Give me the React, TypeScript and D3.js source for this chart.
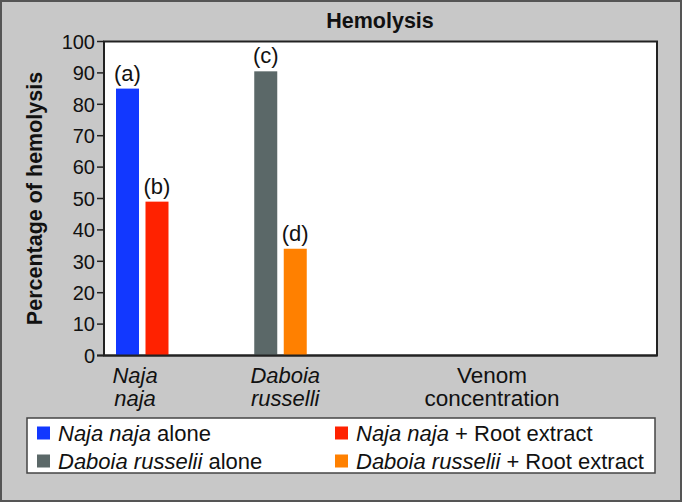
import React from "react";
import * as d3 from "d3";

const categories = ["Naja naja", "Daboia russelli", "", ""];
const categoryLines = [["Naja", "naja"], ["Daboia", "russelli"]];
const seriesKeys = ["alone", "root"];
const najaValues = [85, 49];
const daboiaValues = [90.5, 34];
const barLetters = [["(a)", "(b)"], ["(c)", "(d)"]];
const barColors = [["#1238ff", "#ff2200"], ["#5b6868", "#ff8000"]];
const yTicks = [0, 10, 20, 30, 40, 50, 60, 70, 80, 90, 100];
const legendItems = [
  { it: "Naja naja", rest: " alone", color: "#1238ff" },
  { it: "Naja naja", rest: " + Root extract", color: "#ff2200" },
  { it: "Daboia russelii", rest: " alone", color: "#5b6868" },
  { it: "Daboia russelii", rest: " + Root extract", color: "#ff8000" },
];

const W = 682, H = 502;
const left = 104, right = 657, top = 41.5, bottom = 355.5;
const FONT = "'Liberation Sans', Arial, sans-serif";

export default function App() {
  const x = d3.scaleBand<string>().domain(categories.map((c, i) => c + i)).range([left, right]);
  const y = d3.scaleLinear().domain([0, 100]).range([bottom, top]);
  const inner = d3.scaleBand<string>().domain(seriesKeys).range([0, 52.5]).paddingInner(0.22);
  const groups = [najaValues, daboiaValues];
  return (
    <svg width={W} height={H} style={{ position: "absolute", left: 0, top: 0 }} fontFamily={FONT} fill="#111">
      <rect x={1} y={1} width={W - 2} height={H - 2} fill="#c8c8c8" stroke="#555" strokeWidth={2} />
      <text x={380} y={28} textAnchor="middle" fontWeight="bold" fontSize={21.5}>Hemolysis</text>
      <rect x={left} y={top} width={right - left} height={bottom - top} fill="#fff" stroke="#222" strokeWidth={2} />
      {yTicks.map((t) => (
        <g key={t}>
          <line x1={left - 7} x2={left} y1={y(t)} y2={y(t)} stroke="#222" strokeWidth={1.5} />
          <text x={left - 9} y={y(t)} dy="0.36em" textAnchor="end" fontSize={20}>{t}</text>
        </g>
      ))}
      <text transform={`translate(42,${(top + bottom) / 2}) rotate(-90)`} textAnchor="middle" fontWeight="bold" fontSize={21.5}>
        Percentage of hemolysis
      </text>
      {groups.map((vals, gi) => {
        const gx = (x(categories[gi] + gi) as number) + 12;
        return (
          <g key={gi}>
            {vals.map((v, si) => {
              const bx = gx + (inner(seriesKeys[si]) as number);
              return (
                <g key={si}>
                  <rect x={bx} y={y(v)} width={inner.bandwidth()} height={y(0) - y(v)} fill={barColors[gi][si]} />
                  <text x={bx + inner.bandwidth() / 2} y={y(v) - 8} textAnchor="middle" fontSize={22}>{barLetters[gi][si]}</text>
                </g>
              );
            })}
            {categoryLines[gi].map((ln, li) => (
              <text key={li} x={gx + 26 + (gi === 0 ? -7 : 5)} y={383 + li * 23} textAnchor="middle" fontStyle="italic" fontSize={22}>{ln}</text>
            ))}
          </g>
        );
      })}
      <line x1={left - 7} x2={right} y1={bottom} y2={bottom} stroke="#222" strokeWidth={2} />
      <text x={492} y={383} textAnchor="middle" fontSize={22.5}>Venom</text>
      <text x={492} y={406} textAnchor="middle" fontSize={22.5}>concentration</text>
      <rect x={27} y={418} width={628} height={55} fill="#fff" stroke="#444" strokeWidth={1.5} />
      {legendItems.map((d, i) => {
        const col = i % 2, row = Math.floor(i / 2);
        const lx = col === 0 ? 37 : 335;
        const ly = 433 + row * 28;
        return (
          <g key={i}>
            <rect x={lx} y={ly - 6.5} width={13} height={13} fill={d.color} />
            <text x={lx + 21} y={ly} dy="0.36em" fontSize={22}>
              <tspan fontStyle="italic">{d.it}</tspan>
              <tspan>{d.rest}</tspan>
            </text>
          </g>
        );
      })}
    </svg>
  );
}
